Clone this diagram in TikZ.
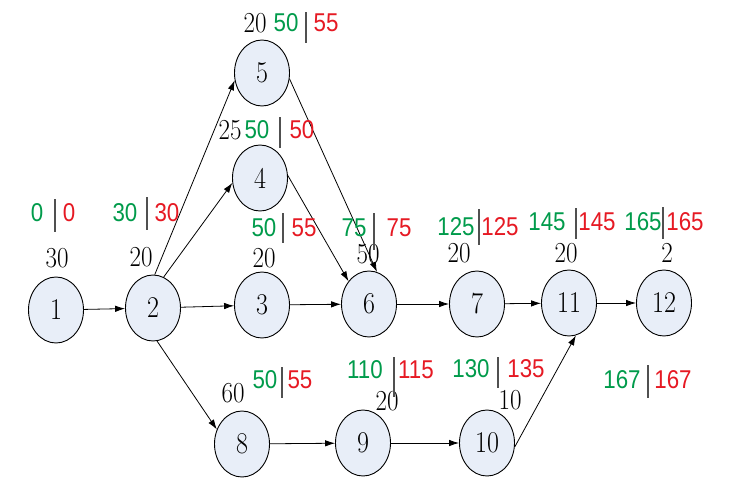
\documentclass[tikz,border=0pt]{standalone}
\usepackage{fontspec}
\usepackage{graphicx}
\newfontfamily\numfont{Liberation Sans}
\usetikzlibrary{shapes.geometric,arrows.meta}
\definecolor{ngreen}{RGB}{0,155,75}
\definecolor{nred}{RGB}{230,25,35}
\definecolor{nfill}{RGB}{232,238,248}
\definecolor{bargray}{RGB}{80,80,80}
\newcommand{\vst}[1]{\scalebox{1}[1.16]{#1}}
\newcommand{\vsc}[1]{\scalebox{0.97}[1.12]{#1}}
\tikzset{
  ev/.style={ellipse, draw=black, line width=0.9pt, fill=nfill, minimum width=55pt, minimum height=66pt, inner sep=0pt, font=\fontsize{26}{30}\selectfont},
  dur/.style={font=\fontsize{25}{30}\selectfont, inner sep=0pt},
  es/.style={text=ngreen, font=\numfont\fontsize{23}{26}\selectfont, inner sep=0pt},
  ls/.style={text=nred, font=\numfont\fontsize{23}{26}\selectfont, inner sep=0pt},
  sepbar/.style={draw=bargray, line width=1.2pt},
  arr/.style={-{Latex[length=10pt,width=6.5pt]}, line width=0.8pt}
}
\begin{document}
\begin{tikzpicture}[x=1pt,y=-1pt]
\useasboundingbox[fill=white] (0,0) rectangle (731,488);
% events
\node[ev] (n1) at (56,310) {\vst{1}};
\node[ev] (n2) at (153,308) {\vst{2}};
\node[ev] (n3) at (262,305) {\vst{3}};
\node[ev] (n4) at (260,178) {\vst{4}};
\node[ev] (n5) at (262,73) {\vst{5}};
\node[ev] (n6) at (369,304) {\vst{6}};
\node[ev] (n7) at (477,304) {\vst{7}};
\node[ev] (n11) at (569,303) {\vst{11}};
\node[ev] (n12) at (664,303) {\vst{12}};
\node[ev] (n8) at (242,444) {\vst{8}};
\node[ev] (n9) at (363,443) {\vst{9}};
\node[ev] (n10) at (487,443) {\vst{10}};
% arrows
\draw[arr] (n1) -- (n2);
\draw[arr] (n2) -- (n3);
\draw[arr] (n2.71) -- (n4.190);
\draw[arr] (n2.87) -- (n5.195);
\draw[arr] (n2.-83) -- (n8.150);
\draw[arr] (n3) -- (n6);
\draw[arr] (n4.5) -- (n6.132);
\draw[arr] (n5.-12) -- (n6.76);
\draw[arr] (n6) -- (n7);
\draw[arr] (n7) -- (n11);
\draw[arr] (n11) -- (n12);
\draw[arr] (n8) -- (n9);
\draw[arr] (n9) -- (n10);
\draw[arr] (n10.-8) -- (n11.-78);
% labels node 1
\node[dur] (d1) at (57,258) {\vst{30}};
\node[es] (e1) at (37,213) {\vsc{0}};
\node[ls] (l1) at (69,213) {\vsc{0}};
\draw[sepbar] (55,199) -- (55,232);
% node 2
\node[dur] (d2) at (141,257) {\vst{20}};
\node[es] (e2) at (125,213) {\vsc{30}};
\node[ls] (l2) at (167,213) {\vsc{30}};
\draw[sepbar] (147,197) -- (147,230);
% node 5
\node[dur] (d5) at (255,23) {\vst{20}};
\node[es] (e5) at (286,23) {\vsc{50}};
\node[ls] (l5) at (326,23) {\vsc{55}};
\draw[sepbar] (306,12) -- (306,43);
% node 4
\node[dur] (d4) at (230,130) {\vst{25}};
\node[es] (e4) at (257,130) {\vsc{50}};
\node[ls] (l4) at (302,130) {\vsc{50}};
\draw[sepbar] (280,117) -- (280,148);
% node 3
\node[es] (e3) at (264,228) {\vsc{50}};
\node[ls] (l3) at (304,228) {\vsc{55}};
\node[dur] (d3) at (264,258) {\vst{20}};
\draw[sepbar] (283,213) -- (283,243);
% node 6
\node[es] (e6) at (354,228) {\vsc{75}};
\node[ls] (l6) at (399,228) {\vsc{75}};
\node[dur] (d6) at (368,254) {\vst{50}};
\draw[sepbar] (374,213) -- (374,250);
% node 7
\node[es] (e7) at (456,227) {\vsc{125}};
\node[ls] (l7) at (500,227) {\vsc{125}};
\node[dur] (d7) at (459,253) {\vst{20}};
\draw[sepbar] (479,209) -- (479,245);
% node 11
\node[es] (e11) at (547,222) {\vsc{145}};
\node[ls] (l11) at (597,222) {\vsc{145}};
\node[dur] (d11) at (566,253) {\vst{20}};
\draw[sepbar] (576,208) -- (576,239);
% node 12
\node[es] (e12) at (643,222) {\vsc{165}};
\node[ls] (l12) at (685,222) {\vsc{165}};
\node[dur] (d12) at (667,253) {\vst{2}};
\draw[sepbar] (663,207) -- (663,239);
% node 8
\node[dur] (d8) at (233,393) {\vst{60}};
\node[es] (e8) at (265,380) {\vsc{50}};
\node[ls] (l8) at (300,380) {\vsc{55}};
\draw[sepbar] (282,367) -- (282,398);
% node 9
\node[es] (e9) at (365,370) {\vsc{110}};
\node[ls] (l9) at (416,370) {\vsc{115}};
\node[dur] (d9) at (387,401) {\vst{20}};
\draw[sepbar] (394,357) -- (394,397);
% node 10
\node[es] (e10) at (471,369) {\vsc{130}};
\node[ls] (l10) at (526,369) {\vsc{135}};
\node[dur] (d10) at (510,400) {\vst{10}};
\draw[sepbar] (498,357) -- (498,388);
% final
\node[es] (ef) at (622,380) {\vsc{167}};
\node[ls] (lf) at (673,380) {\vsc{167}};
\draw[sepbar] (648,365) -- (648,398);
\end{tikzpicture}
\end{document}
